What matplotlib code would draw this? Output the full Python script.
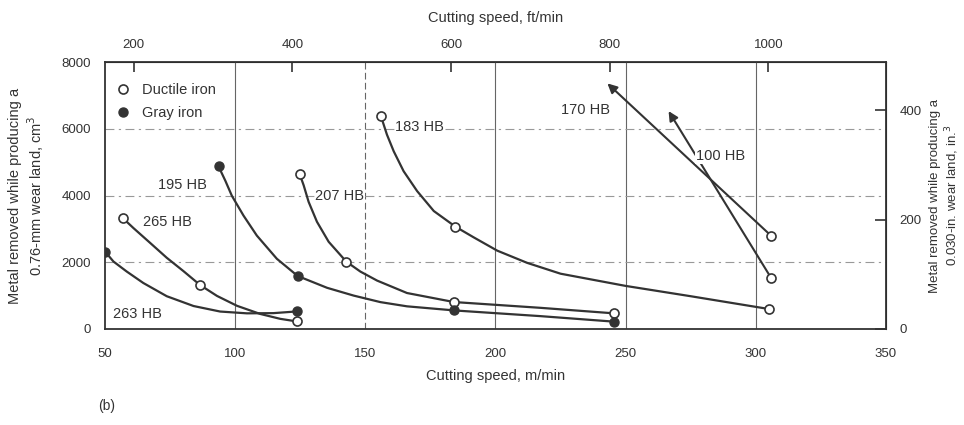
import matplotlib.pyplot as plt

plt.rcParams['font.family'] = ['Liberation Sans', 'DejaVu Sans']

ink = '#333333'

# curves (cutting speed m/min, metal removed cm3)
hb183_x = [156.0, 158.3, 160.9, 164.7, 169.9, 176.3, 184.6, 191.7, 200.7, 212.2, 225, 250, 275, 305.1]
hb183_y = [6375, 5823, 5325, 4728, 4131, 3534, 3066, 2742, 2346, 1980, 1656, 1290, 981, 597]
hb195_x = [93.6, 96.2, 98.7, 103.2, 108.3, 116, 124, 135.3, 145.5, 155.8, 166, 184.2, 217.3, 245.5]
hb195_y = [4872, 4443, 3993, 3396, 2799, 2103, 1587, 1233, 1000, 804, 678, 555, 384, 219]
hb207_x = [124.7, 126.3, 128.2, 131.4, 135.9, 142.7, 148.1, 154.5, 166, 184, 217.3, 245.5]
hb207_y = [4656, 4305, 3810, 3213, 2613, 2016, 1719, 1450, 1077, 807, 633, 468]
hb265_x = [56.8, 60.9, 67.3, 73.7, 80.1, 86.5, 93, 100.7, 109.6, 117.3, 123.7]
hb265_y = [3324, 3024, 2580, 2133, 1734, 1317, 990, 693, 450, 303, 225]
hb263_x = [50, 53.2, 58.3, 64.7, 73.7, 84, 94.2, 104.5, 114.7, 123.7]
hb263_y = [2319, 2022, 1722, 1377, 981, 687, 522, 468, 474, 525]
hb170_x = [305.8, 243]
hb170_y = [2800, 7360]
hb100_x = [305.8, 266.5]
hb100_y = [1540, 6530]

# measured points
ductile_x = [156.0, 184.6, 305.1, 124.7, 142.7, 184, 245.5, 56.8, 86.5, 123.7, 305.8, 305.8]
ductile_y = [6375, 3066, 597, 4656, 2016, 807, 468, 3324, 1317, 225, 2800, 1540]
gray_x = [93.6, 124, 184.2, 245.5, 50, 123.7]
gray_y = [4872, 1587, 555, 219, 2319, 525]

labels = ['183 HB', '195 HB', '207 HB', '265 HB', '263 HB', '170 HB', '100 HB']
label_x = [161.5, 70.4, 130.8, 64.6, 53, 225, 277]
label_y = [6050, 4300, 3980, 3210, 450, 6570, 5175]

fig = plt.figure(figsize=(9.64, 4.25), dpi=100)
ax = fig.add_axes([0.109, 0.226, 0.81, 0.628])

for xs, ys in [(hb183_x, hb183_y), (hb195_x, hb195_y), (hb207_x, hb207_y),
               (hb265_x, hb265_y), (hb263_x, hb263_y)]:
    ax.plot(xs, ys, color=ink, lw=1.6, zorder=3, solid_joinstyle='round')

for xs, ys in [(hb170_x, hb170_y), (hb100_x, hb100_y)]:
    ax.annotate('', xy=(xs[1], ys[1]), xytext=(xs[0], ys[0]),
                arrowprops=dict(arrowstyle='-|>', color=ink, lw=1.5,
                                mutation_scale=14, shrinkA=0, shrinkB=0), zorder=3)

ax.plot(ductile_x, ductile_y, 'o', ms=6.5, mfc='white', mec=ink, mew=1.2,
        zorder=4, label='Ductile iron')
ax.plot(gray_x, gray_y, 'o', ms=6.5, mfc=ink, mec=ink, zorder=4, label='Gray iron')

for t, x, y in zip(labels, label_x, label_y):
    ax.text(x, y, t, fontsize=10.5, color=ink, va='center', ha='left',
            zorder=5, bbox=dict(fc='white', ec='none', pad=0.3))

ax.set_xlim(50, 350)
ax.set_ylim(0, 8000)
ax.set_xticks([50, 100, 150, 200, 250, 300, 350])
ax.set_yticks([0, 2000, 4000, 6000, 8000])
ax.tick_params(axis='x', length=0, labelsize=9.5, labelcolor=ink, pad=14)
ax.tick_params(axis='y', length=0, labelsize=9.5, labelcolor=ink, pad=10)

for v in [100, 150, 200, 250, 300]:
    ax.axvline(v, color='#666666', lw=0.8, ls='-' if v != 150 else (0, (6, 3)), zorder=1)
for v in [2000, 4000, 6000]:
    ax.axhline(v, color='#999999', lw=0.8, ls=(0, (8, 4, 2, 4)), zorder=1)

for s in ax.spines.values():
    s.set_color(ink)
    s.set_linewidth(1.3)

ax.set_xlabel('Cutting speed, m/min', fontsize=10.5, color=ink, labelpad=6)
ax.set_ylabel('Metal removed while producing a\n0.76-mm wear land, cm$^3$',
              fontsize=10.5, color=ink, labelpad=11)

top = ax.secondary_xaxis('top', functions=(lambda m: m * 3.2808, lambda f: f / 3.2808))
top.set_xticks([200, 400, 600, 800, 1000])
top.tick_params(direction='in', length=7, width=1.2, color=ink, labelsize=9.5,
                labelcolor=ink, pad=8)
top.set_xlabel('Cutting speed, ft/min', fontsize=10.5, color=ink, labelpad=12)

right = ax.secondary_yaxis('right', functions=(lambda c: c / 16.387, lambda i: i * 16.387))
right.set_yticks([0, 200, 400])
right.tick_params(direction='in', length=8, width=1.2, color=ink, labelsize=9.5,
                  labelcolor=ink, pad=10)
right.set_ylabel('Metal removed while producing a\n0.030-in. wear land, in.$^3$',
                 fontsize=9.5, color=ink, labelpad=5)

leg = ax.legend(loc='upper left', bbox_to_anchor=(-0.014, 0.975), frameon=False,
                fontsize=10.5, handletextpad=0.3, borderaxespad=0.6, labelspacing=0.6)
for t in leg.get_texts():
    t.set_color(ink)

fig.text(0.102, 0.035, '(b)', fontsize=10, color=ink)

plt.savefig('out.png', dpi=100)
